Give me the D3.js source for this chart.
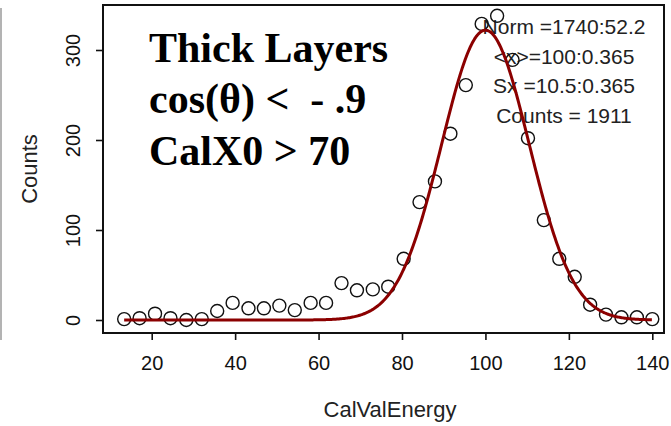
<!DOCTYPE html>
<html>
<head>
<meta charset="utf-8">
<script src="https://cdn.jsdelivr.net/npm/d3@7"></script>
<style>
  html, body { margin: 0; padding: 0; background: #fff; }
  svg { display: block; }
  text { white-space: pre; }
</style>
</head>
<body>
<script>
// Histogram of CalValEnergy (bin centres and counts) with a Gaussian fit
const binCenters = [13.4, 17.1, 20.8, 24.5, 28.3, 32.0, 35.7, 39.4, 43.2, 46.9,
                    50.6, 54.3, 58.1, 61.8, 65.5, 69.2, 73.0, 76.7, 80.4, 84.2,
                    87.9, 91.6, 95.3, 99.1, 102.8, 106.5, 110.2, 114.0, 117.7, 121.4,
                    125.1, 128.9, 132.6, 136.3, 140.0];
const binCounts = [1, 2, 7, 2, 0, 1, 10, 19, 13, 13,
                   16, 11, 19, 19, 41, 33, 34, 37, 68, 131,
                   154, 207, 261, 329, 338, 289, 202, 111, 68, 48,
                   17, 6, 3, 3, 1];

const xTicks = [20, 40, 60, 80, 100, 120, 140];
const yTicks = [0, 100, 200, 300];

// Fit parameters (mean and width as printed in the stats box)
const fitMean = 100;
const fitSigma = 10.5;
const fitPeak = 322;

const statsLines = ["Norm =1740:52.2", "<x>=100:0.365", "Sx =10.5:0.365", "Counts = 1911"];
const cutLines = ["Thick Layers", "cos(\u03B8) <  - .9", "CalX0 > 70"];

const W = 671, H = 426;
const svg = d3.select("body").append("svg").attr("width", W).attr("height", H);

const frame = { left: 103, top: 5, right: 664, bottom: 333 };

const x = d3.scaleLinear().domain([20, 140]).range([151.7, 652.3]);
const y = d3.scaleLinear().domain([0, 300]).range([320, 50]);

// faint separator at the left edge
svg.append("line").attr("x1", 1).attr("x2", 1).attr("y1", 8).attr("y2", 340)
  .attr("stroke", "#9a9a9a").attr("stroke-width", 1.5);

// plot frame
svg.append("rect")
  .attr("x", frame.left).attr("y", frame.top)
  .attr("width", frame.right - frame.left).attr("height", frame.bottom - frame.top)
  .attr("fill", "none").attr("stroke", "#111").attr("stroke-width", 2);

// x axis
const xAxis = d3.axisBottom(x).tickValues(xTicks).tickSize(7).tickPadding(16)
  .tickFormat(d3.format("d"));
const gx = svg.append("g").attr("transform", `translate(0,${frame.bottom})`).call(xAxis);
gx.select(".domain").remove();
gx.selectAll(".tick line").attr("stroke", "#111").attr("stroke-width", 1.6);
gx.selectAll(".tick text").attr("font-family", "Liberation Sans, Arial, sans-serif")
  .attr("font-size", 20).attr("fill", "#111").attr("dy", "0.71em");

// y axis (labels rotated, parallel to the axis)
const yAxis = d3.axisLeft(y).tickValues(yTicks).tickSize(7).tickFormat(d3.format("d"));
const gy = svg.append("g").attr("transform", `translate(${frame.left},0)`).call(yAxis);
gy.select(".domain").remove();
gy.selectAll(".tick line").attr("stroke", "#111").attr("stroke-width", 1.6);
gy.selectAll(".tick text")
  .attr("font-family", "Liberation Sans, Arial, sans-serif").attr("font-size", 20)
  .attr("fill", "#111")
  .attr("x", null).attr("dy", null)
  .attr("text-anchor", "middle")
  .attr("transform", "translate(-23,0) rotate(-90)");

// axis titles
svg.append("text").attr("x", 390).attr("y", 417).attr("text-anchor", "middle")
  .attr("font-family", "Liberation Sans, Arial, sans-serif").attr("font-size", 22)
  .attr("fill", "#222").text("CalValEnergy");
svg.append("text").attr("transform", "translate(37,169) rotate(-90)")
  .attr("text-anchor", "middle")
  .attr("font-family", "Liberation Sans, Arial, sans-serif").attr("font-size", 22)
  .attr("fill", "#222").text("Counts");

// selection cuts
svg.append("g").selectAll("text").data(cutLines).join("text")
  .attr("x", 149).attr("y", (d, i) => 61.5 + i * 51.7)
  .attr("font-family", "Liberation Serif, Times New Roman, serif")
  .attr("font-weight", "bold").attr("font-size", 42).attr("fill", "#000")
  .text(d => d);

// fit statistics
svg.append("g").selectAll("text").data(statsLines).join("text")
  .attr("x", 564).attr("y", (d, i) => 34 + i * 29.7).attr("text-anchor", "middle")
  .attr("font-family", "Liberation Sans, Arial, sans-serif").attr("font-size", 21)
  .attr("fill", "#222").text(d => d);

// data points
svg.append("g").selectAll("circle").data(binCenters).join("circle")
  .attr("cx", d => x(d)).attr("cy", (d, i) => y(binCounts[i]))
  .attr("r", 6.5).attr("fill", "none").attr("stroke", "#111").attr("stroke-width", 1.4);

// Gaussian fit over the histogram range
const xs = d3.range(binCenters[0], binCenters[binCenters.length - 1] + 0.001, 0.25);
const gauss = v => fitPeak * Math.exp(-((v - fitMean) ** 2) / (2 * fitSigma * fitSigma));
svg.append("path").datum(xs)
  .attr("d", d3.line().x(v => x(v)).y(v => y(gauss(v))))
  .attr("fill", "none").attr("stroke", "#8b0000").attr("stroke-width", 3)
  .attr("stroke-linejoin", "round");
</script>
</body>
</html>
